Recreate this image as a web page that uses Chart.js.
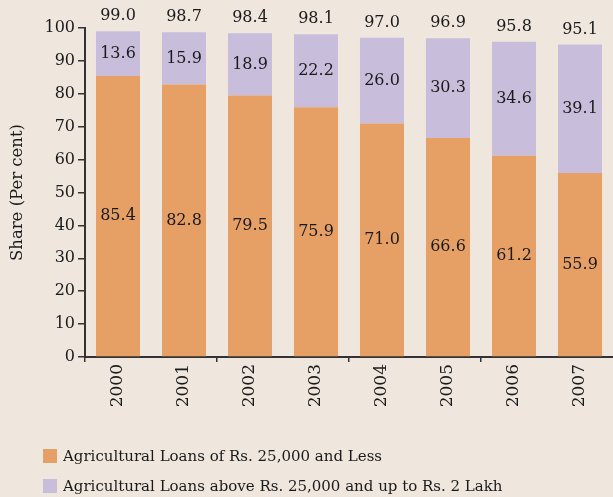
<!DOCTYPE html>
<html>
<head>
<meta charset="utf-8">
<script src="https://cdn.jsdelivr.net/npm/chart.js@4"></script>
<style>
  html, body { margin: 0; padding: 0; background: #efe6de; }
  #wrap { position: relative; width: 613px; height: 497px; }
  #legend { position: absolute; left: 43px; top: 441px; font-family: "DejaVu Serif", serif; font-size: 15px; color: #1a1a1a; }
  #legend div { height: 30px; display: flex; align-items: center; }
  #legend span.box { display: inline-block; width: 14px; height: 14px; margin-right: 6px; }
</style>
</head>
<body>
<div id="wrap">
  <canvas id="chart" width="613" height="497"></canvas>
  <div id="legend"></div>
</div>
<script>
const years = ["2000", "2001", "2002", "2003", "2004", "2005", "2006", "2007"];
const smallLoans = [85.4, 82.8, 79.5, 75.9, 71.0, 66.6, 61.2, 55.9];
const largeLoans = [13.6, 15.9, 18.9, 22.2, 26.0, 30.3, 34.6, 39.1];
const totals = ["99.0", "98.7", "98.4", "98.1", "97.0", "96.9", "95.8", "95.1"];
const seriesNames = [
    "Agricultural Loans of Rs. 25,000 and Less",
    "Agricultural Loans above Rs. 25,000 and up to Rs. 2 Lakh"
];
const colors = ["#e6a065", "#c8bedc"];

const FONT = "DejaVu Serif";

// draw values inside segments and totals on top
const labelPlugin = {
    id: "barLabels",
    afterDatasetsDraw(chart) {
        const ctx = chart.ctx;
        ctx.save();
        ctx.font = "16px '" + FONT + "'";
        ctx.fillStyle = "#1a1a1a";
        ctx.textAlign = "center";
        ctx.textBaseline = "middle";
        chart.data.datasets.forEach((ds, di) => {
            chart.getDatasetMeta(di).data.forEach((bar, i) => {
                const mid = (bar.y + bar.base) / 2;
                ctx.fillText(ds.data[i].toFixed(1), bar.x, mid);
            });
        });
        const top = chart.getDatasetMeta(1).data;
        top.forEach((bar, i) => {
            ctx.fillText(totals[i], bar.x, bar.y - 15);
        });
        ctx.restore();
    }
};

new Chart(document.getElementById("chart"), {
    type: "bar",
    data: {
        labels: years,
        datasets: [
            { label: seriesNames[0], data: smallLoans, backgroundColor: colors[0] },
            { label: seriesNames[1], data: largeLoans, backgroundColor: colors[1] }
        ]
    },
    options: {
        responsive: false,
        animation: false,
        layout: { padding: { top: 28, right: 0, left: 0, bottom: 0 } },
        categoryPercentage: 1,
        barPercentage: 0.667,
        plugins: { legend: { display: false }, tooltip: { enabled: false } },
        scales: {
            x: {
                stacked: true,
                afterFit: s => { s.height = 140; },
                grid: {
                    offset: true,
                    drawOnChartArea: false,
                    drawTicks: true,
                    tickLength: 5,
                    lineWidth: 1.5,
                    // tick mark at every second category boundary
                    color: c => (c.index % 2 === 0 ? "#333" : "rgba(0,0,0,0)")
                },
                border: { display: true, color: "#333", width: 2 },
                ticks: { minRotation: 90, maxRotation: 90, padding: 2, color: "#1a1a1a", font: { family: FONT, size: 17 } }
            },
            y: {
                stacked: true,
                min: 0,
                max: 100,
                afterFit: s => { s.width = 85; },
                grid: { drawOnChartArea: false, drawTicks: true, tickLength: 7, color: "#333", lineWidth: 1.5 },
                border: { display: true, color: "#333", width: 2 },
                ticks: { stepSize: 10, padding: 3, color: "#1a1a1a", font: { family: FONT, size: 16 } },
                title: { display: true, text: "Share (Per cent)", color: "#1a1a1a", padding: { top: 8, bottom: 0 }, font: { family: FONT, size: 16.5 } }
            }
        }
    },
    plugins: [labelPlugin]
});

// legend
const legend = document.getElementById("legend");
seriesNames.forEach((name, i) => {
    const row = document.createElement("div");
    row.innerHTML = `<span class="box" style="background:${colors[i]}"></span>${name}`;
    legend.appendChild(row);
});
</script>
</body>
</html>
